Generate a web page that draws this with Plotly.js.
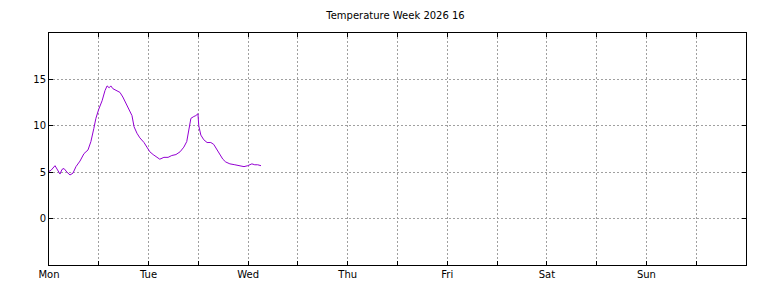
<!DOCTYPE html>
<html>
<head>
<meta charset="utf-8">
<script src="https://cdn.plot.ly/plotly-3.0.1.min.js"></script>
<style>html,body{margin:0;padding:0;background:#fff;}#chart{width:768px;height:288px;}</style>
</head>
<body>
<div id="chart"></div>
<script>
// hours since Monday 00:00
var hours = [0, 0.48, 1.45, 2.17, 2.65, 3.13, 3.61, 4.34, 5.06, 5.78, 6.5, 7.47, 8.43, 9.4, 10.1, 10.8, 11.3, 12.0, 12.8, 13.5, 14.0, 14.5, 14.9, 15.4, 16.1, 17.1, 17.8, 18.5, 19.3, 20.0, 20.5, 21.2, 21.9, 22.9, 23.6, 24.3, 25.1, 26.0, 26.7, 27.7, 28.7, 29.6, 30.6, 31.6, 32.5, 33.2, 33.7, 34.2, 34.9, 35.4, 35.9, 36.1, 36.6, 37.3, 38.1, 39.0, 39.7, 40.5, 41.2, 41.9, 42.6, 43.6, 44.8, 46.0, 47.0, 47.9, 48.9, 49.6, 50.3, 51.1];
var temps = [5.1, 5.2, 5.7, 5.2, 4.8, 5.3, 5.4, 5.0, 4.7, 4.9, 5.6, 6.2, 7.0, 7.4, 8.3, 9.7, 10.8, 11.8, 12.7, 13.8, 14.3, 14.1, 14.3, 14.0, 13.8, 13.6, 13.1, 12.5, 11.8, 11.1, 9.9, 9.2, 8.7, 8.2, 7.7, 7.2, 6.9, 6.6, 6.4, 6.6, 6.6, 6.8, 6.9, 7.2, 7.7, 8.3, 9.7, 10.8, 11.0, 11.1, 11.3, 10.0, 9.0, 8.5, 8.2, 8.2, 8.0, 7.4, 6.9, 6.4, 6.1, 5.9, 5.8, 5.7, 5.6, 5.7, 5.9, 5.8, 5.8, 5.7];
var dayLabels = ["Mon", "Tue", "Wed", "Thu", "Fri", "Sat", "Sun"];
var yTicks = [0, 5, 10, 15];

var tickvals = [], ticktext = [];
for (var i = 0; i < dayLabels.length; i++) {
  tickvals.push(i * 24); ticktext.push(dayLabels[i]);
  tickvals.push(i * 24 + 12); ticktext.push("");
}
tickvals.push(168); ticktext.push("");

var font = {family: "DejaVu Sans", size: 10, color: "#000"};
Plotly.newPlot("chart", [{
  x: hours, y: temps, type: "scatter", mode: "lines",
  line: {color: "#9400d3", width: 1}, hoverinfo: "skip"
}], {
  width: 768, height: 288,
  margin: {l: 49, r: 22, t: 33, b: 23, pad: 0},
  paper_bgcolor: "#fff", plot_bgcolor: "#fff",
  title: {text: "Temperature Week 2026 16", font: font, x: 0.515, xanchor: "center", y: 0.945, yanchor: "middle"},
  showlegend: false,
  font: font,
  xaxis: {
    range: [0, 168], tickmode: "array", tickvals: tickvals, ticktext: ticktext,
    showgrid: true, gridcolor: "#a0a0a0", griddash: "2px,2px", gridwidth: 1,
    showline: true, linecolor: "#000", linewidth: 1, mirror: "ticks",
    ticks: "inside", ticklen: 4, tickcolor: "#000", tickfont: font, zeroline: false
  },
  yaxis: {
    range: [-5, 20], tickmode: "array", tickvals: yTicks,
    showgrid: true, gridcolor: "#a0a0a0", griddash: "2px,2px", gridwidth: 1,
    showline: true, linecolor: "#000", linewidth: 1, mirror: "ticks",
    ticks: "inside", ticklen: 4, tickcolor: "#000", tickfont: font, zeroline: false
  }
}, {staticPlot: true});
</script>
</body>
</html>
